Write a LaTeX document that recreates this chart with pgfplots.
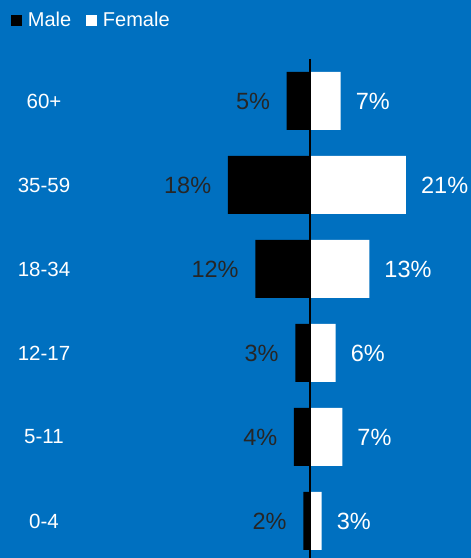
\documentclass[border=0pt]{standalone}
\usepackage{pgfplots}
\pgfplotsset{compat=1.18}
\usepackage{pgfplotstable}
\usepackage{fontspec}
\setmainfont{Liberation Sans}
\definecolor{bgblue}{HTML}{0070C0}
\definecolor{lblgrey}{HTML}{262626}

\pgfplotstableread{
y val lbl
0 -1.40 2
1 -3.44 4
2 -3.15 3
3 -11.90 12
4 -17.90 18
5 -5.03 5
}\male
\pgfplotstableread{
y val lbl
0 2.63 3
1 7.13 7
2 5.69 6
3 13.04 13
4 21.07 21
5 6.78 7
}\female

\begin{document}
\begin{tikzpicture}
\begin{axis}[
  at={(0,0)}, anchor=south west,
  width=471pt, height=558pt, scale only axis,
  xmin=-67.77, xmax=35.30, ymin=-0.4405, ymax=6.2024,
  axis line style={draw=none},
  axis background/.style={fill=bgblue},
  xtick=\empty,
  ytick={0,1,2,3,4,5},
  yticklabels={0-4,5-11,12-17,18-34,35-59,60+},
  yticklabel style={anchor=center, xshift=44pt, text=white, font=\fontsize{20.5}{24}\selectfont},
  major tick length=0pt,
  xbar, bar shift=0pt, bar width=58pt,
  clip=false,
  legend columns=2,
  legend style={at={(axis description cs:0.02335,0.9633)}, anchor=west,
    draw=none, fill=none, inner sep=0pt, text=white,
    font=\fontsize{20}{24}\selectfont,
    nodes={inner sep=0pt},
    /tikz/every odd column/.append style={column sep=5.7pt},
    /tikz/every even column/.append style={column sep=15pt}},
]
\addplot[fill=black, draw=none, point meta=explicit symbolic,
  nodes near coords={\pgfplotspointmeta\%},
  nodes near coords style={anchor=east, inner sep=0pt, xshift=-16.5pt, text=lblgrey, font=\fontsize{23.5}{28}\selectfont},
  legend image code/.code={\fill[black] (0pt,-5.5pt) rectangle (11pt,5.5pt);}]
  table[x=val, y=y, meta=lbl]{\male};
\addlegendentry{Male}
\addplot[fill=white, draw=none, point meta=explicit symbolic,
  nodes near coords={\pgfplotspointmeta\%},
  nodes near coords style={anchor=west, inner sep=0pt, xshift=15pt, text=white, font=\fontsize{23.5}{28}\selectfont},
  legend image code/.code={\fill[white] (0pt,-5.5pt) rectangle (11pt,5.5pt);}]
  table[x=val, y=y, meta=lbl]{\female};
\addlegendentry{Female}
\draw[black, line width=2pt] (axis cs:0,5.5) -- (axis cs:0,-0.4405);
\end{axis}
\pgfresetboundingbox
\path[use as bounding box] (current axis.south west) rectangle (current axis.north east);
\end{tikzpicture}
\end{document}
